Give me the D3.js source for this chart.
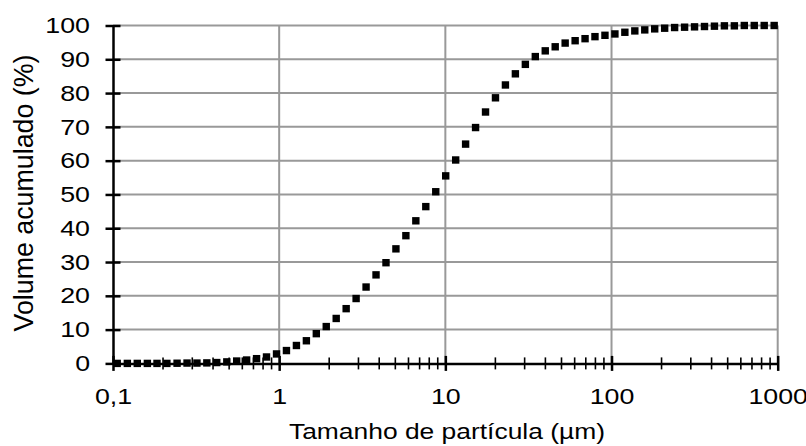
<!DOCTYPE html>
<html>
<head>
<meta charset="utf-8">
<script src="https://cdn.jsdelivr.net/npm/d3@7"></script>
<style>
  body { margin: 0; background: #fff; }
  text { font-family: "Liberation Sans", Arial, sans-serif; fill: #000; }
</style>
</head>
<body>
<div id="the_chart"></div>
<script>
// particle size (um)
var sizes = [0.106, 0.122, 0.140, 0.161, 0.184, 0.211, 0.243, 0.279, 0.320, 0.367,
    0.421, 0.484, 0.555, 0.637, 0.731, 0.839, 0.964, 1.106, 1.270, 1.458,
    1.673, 1.920, 2.204, 2.530, 2.904, 3.334, 3.827, 4.393, 5.042, 5.788,
    6.644, 7.627, 8.755, 10.05, 11.54, 13.24, 15.20, 17.45, 20.03, 22.99,
    26.39, 30.30, 34.78, 39.92, 45.82, 52.6, 60.4, 69.3, 79.5, 91.3,
    104.8, 120.3, 138.1, 158.5, 181.9, 208.8, 239.7, 275.2, 315.9, 362.6,
    416.2, 477.8, 548.5, 629.6, 722.7, 829.6, 952.3];

// cumulative volume (%)
var volume = [0, 0, 0, 0, 0, 0, 0.05, 0.1, 0.1, 0.15,
    0.25, 0.45, 0.7, 1.0, 1.4, 1.9, 2.8, 3.8, 5.3, 6.7,
    8.8, 10.9, 13.3, 16.2, 19.2, 22.6, 26.2, 29.8, 33.9, 37.8,
    42.2, 46.4, 50.8, 55.5, 60.2, 64.9, 69.8, 74.4, 78.6, 82.4,
    85.7, 88.5, 90.8, 92.5, 93.7, 94.8, 95.5, 96.1, 96.7, 97.1,
    97.5, 98.0, 98.4, 98.7, 99.0, 99.2, 99.4, 99.5, 99.6, 99.7,
    99.8, 99.9, 99.9, 100, 100, 100, 100];

var xTicks = [0.1, 1, 10, 100, 1000];
var xTickLabels = ["0,1", "1", "10", "100", "1000"];
var yTicks = [0, 10, 20, 30, 40, 50, 60, 70, 80, 90, 100];

var xTitle = "Tamanho de partícula (µm)";
var yTitle = "Volume acumulado (%)";

var w = 806;
var h = 446;

var svg = d3.select("#the_chart")
    .append("svg")
    .attr("width", w)
    .attr("height", h);

var xscale = d3.scaleLog()
    .domain([0.1, 1000])
    .range([113, 777.7]);

var yscale = d3.scaleLinear()
    .domain([0, 100])
    .range([363.4, 25.5]);

// minor ticks 2..9 of each decade
var minorTicks = xscale.ticks().filter(function (d) {
    return xTicks.indexOf(d) < 0;
});

// text in the picture is wider than plain Arial
function stretch(sel, k) {
    sel.each(function () {
        var len = this.getComputedTextLength();
        d3.select(this)
            .attr("textLength", len * k)
            .attr("lengthAdjust", "spacingAndGlyphs");
    });
}

// gridlines
svg.append("g")
    .selectAll("line")
    .data(yTicks.slice(1))
    .enter().append("line")
    .attr("x1", xscale(0.1))
    .attr("x2", xscale(1000))
    .attr("y1", function (d) { return yscale(d); })
    .attr("y2", function (d) { return yscale(d); })
    .attr("stroke", "#999")
    .attr("stroke-width", 2);

svg.append("g")
    .selectAll("line")
    .data(xTicks.slice(1))
    .enter().append("line")
    .attr("x1", function (d) { return xscale(d); })
    .attr("x2", function (d) { return xscale(d); })
    .attr("y1", yscale(0))
    .attr("y2", yscale(100))
    .attr("stroke", "#999")
    .attr("stroke-width", 2);

// axes
var xaxis = d3.axisBottom()
    .scale(xscale)
    .tickValues(xTicks)
    .tickSizeInner(0)
    .tickSizeOuter(0)
    .tickPadding(24.3)
    .tickFormat(function (d, i) { return xTickLabels[i]; });

var gX = svg.append("g")
    .attr("transform", "translate(0," + yscale(0) + ")")
    .call(xaxis);

var yaxis = d3.axisLeft()
    .scale(yscale)
    .tickValues(yTicks)
    .tickSizeInner(0)
    .tickSizeOuter(0)
    .tickPadding(23);

var gY = svg.append("g")
    .attr("transform", "translate(" + xscale(0.1) + ",0)")
    .call(yaxis);

[gX, gY].forEach(function (g) {
    g.select(".domain").attr("stroke", "#000").attr("stroke-width", 2.5);
    g.selectAll(".tick text")
        .style("font-family", "'Liberation Sans', Arial, sans-serif")
        .style("font-size", "22.3px")
        .attr("fill", "#000")
        .call(stretch, 1.2);
});

// cross tick marks
gY.selectAll(".tick").append("line")
    .attr("x1", -7.5).attr("x2", 7.5)
    .attr("stroke", "#000").attr("stroke-width", 2.5);

gX.selectAll(".tick").append("line")
    .attr("y1", -7.5).attr("y2", 7.5)
    .attr("stroke", "#000").attr("stroke-width", 2.5);

gX.selectAll(".minor")
    .data(minorTicks)
    .enter().append("line")
    .attr("class", "minor")
    .attr("x1", function (d) { return xscale(d); })
    .attr("x2", function (d) { return xscale(d); })
    .attr("y1", -6).attr("y2", 6)
    .attr("stroke", "#000").attr("stroke-width", 1.6);

// points
var r = 3.7;
svg.append("g")
    .selectAll("rect")
    .data(sizes)
    .enter().append("rect")
    .attr("x", function (d) { return xscale(d) - r; })
    .attr("y", function (d, i) { return yscale(volume[i]) - r; })
    .attr("width", r * 2)
    .attr("height", r * 2)
    .attr("fill", "#000");

// axis titles
svg.append("text")
    .attr("x", 447)
    .attr("y", 438.5)
    .attr("text-anchor", "middle")
    .style("font-size", "22px")
    .text(xTitle)
    .call(stretch, 1.2);

svg.append("text")
    .attr("transform", "translate(33,193) rotate(-90)")
    .attr("text-anchor", "middle")
    .style("font-size", "27.5px")
    .attr("textLength", 277)
    .attr("lengthAdjust", "spacingAndGlyphs")
    .text(yTitle);
</script>
</body>
</html>
